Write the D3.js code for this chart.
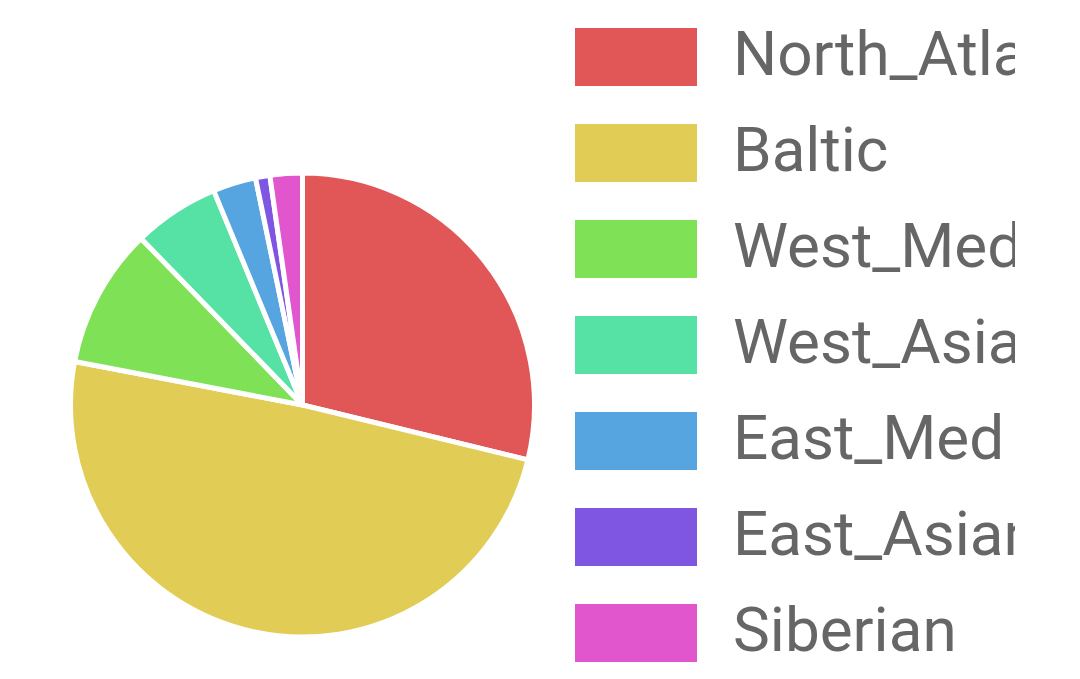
<!DOCTYPE html>
<html><head><meta charset="utf-8">
<script src="https://cdn.jsdelivr.net/npm/d3@7"></script>
<style>html,body{margin:0;padding:0;background:#fff;overflow:hidden}</style>
</head><body>
<svg id="c" width="1080" height="679"></svg>
<script>
const categories = ["North_Atlantic","Baltic","West_Med","West_Asian","East_Med","East_Asian","Siberian"];
const values = [28.8, 49.2, 9.75, 6.0, 3.0, 1.0, 2.25];
const colors = categories.map((d,i)=>d3.hsl(i*360/7,0.7,0.61).toString());

const svg = d3.select("#c");
const cx = 302.5, cy = 405, r = 232;
const pie = d3.pie().sort(null).value(d=>d.v);
const arc = d3.arc().innerRadius(0).outerRadius(r);
const data = categories.map((c,i)=>({c, v: values[i], col: colors[i]}));
svg.append("g").attr("transform",`translate(${cx},${cy})`)
  .selectAll("path").data(pie(data)).join("path")
  .attr("d",arc).attr("fill",d=>d.data.col)
  .attr("stroke","#fff").attr("stroke-width",5).attr("stroke-linejoin","round");

svg.append("clipPath").attr("id","lc").append("rect")
  .attr("x",560).attr("y",0).attr("width",455).attr("height",679);
const lg = svg.append("g").attr("clip-path","url(#lc)");
const y = d3.scaleBand().domain(categories).range([28-19, 28-19+96*7]).paddingInner(0);
const items = lg.selectAll("g").data(data).join("g")
  .attr("transform",d=>`translate(575,${y(d.c)+19})`);
items.append("rect").attr("width",122).attr("height",58).attr("fill",d=>d.col);
items.append("text").attr("x",158).attr("y",47)
  .attr("font-family","Roboto, sans-serif").attr("font-size",62)
  .attr("fill","#666").text(d=>d.c);
</script>
</body></html>
